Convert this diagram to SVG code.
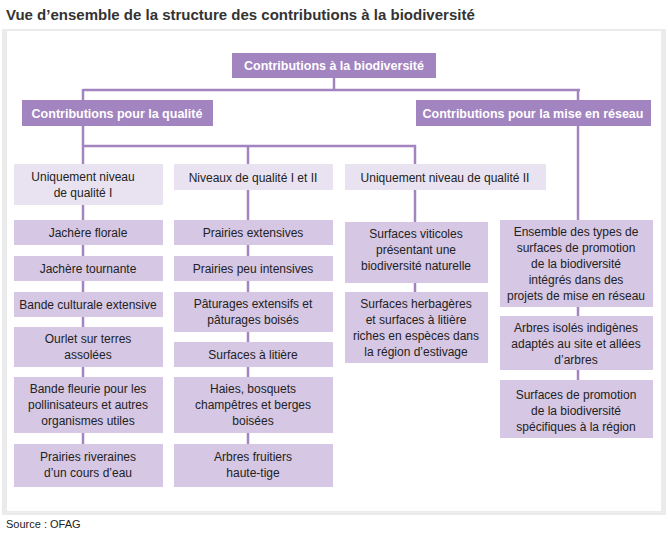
<svg xmlns="http://www.w3.org/2000/svg" width="668" height="536" viewBox="0 0 668 536">
<style>
text{font-family:"Liberation Sans","DejaVu Sans",sans-serif;font-size:12px;fill:#222;text-anchor:middle}
.h{fill:#a284c0}.h2{fill:#e9e3f1}.b{fill:#d6c7e4}
.ht{fill:#fff;font-weight:bold;font-size:12.5px}
.c line{stroke:#a284c0;stroke-width:2.5}
</style>
<rect width="668" height="536" fill="#fff"/>
<text x="6" y="20" style="text-anchor:start;font-weight:bold;font-size:15px;fill:#333">Vue d’ensemble de la structure des contributions à la biodiversité</text>
<rect x="2" y="29" width="664" height="486" fill="#ebebeb"/>
<rect x="7" y="31" width="654" height="480" fill="#fff"/>
<text x="6" y="528" style="text-anchor:start;font-size:11px">Source : OFAG</text>
<g class="c">
<line x1="334" y1="78" x2="334" y2="90"/><line x1="83" y1="90" x2="580" y2="90"/>
<line x1="83" y1="89" x2="83" y2="100"/><line x1="578" y1="89" x2="578" y2="100"/>
<line x1="83" y1="126" x2="83" y2="470"/><line x1="82" y1="146" x2="416" y2="146"/>
<line x1="248" y1="146" x2="248" y2="470"/><line x1="415" y1="145" x2="415" y2="330"/>
<line x1="578" y1="126" x2="578" y2="410"/>
</g>
<g id="root"><rect class="h" x="232" y="53" width="204" height="25"/><text class="ht" x="334" y="70">Contributions à la biodiversité</text></g>
<g id="qual"><rect class="h" x="22" y="100" width="191" height="26"/><text class="ht" x="117" y="118">Contributions pour la qualité</text></g>
<g id="res"><rect class="h" x="416" y="100" width="235" height="26"/><text class="ht" x="533" y="118">Contributions pour la mise en réseau</text></g>
<g id="h1"><rect class="h2" x="14" y="164" width="149" height="41"/><text x="83" y="181">Uniquement niveau</text><text x="83" y="197">de qualité I</text></g>
<g id="h2"><rect class="h2" x="174" y="164" width="159" height="26"/><text x="253" y="182">Niveaux de qualité I et II</text></g>
<g id="h3"><rect class="h2" x="345" y="164" width="201" height="26"/><text x="445" y="182">Uniquement niveau de qualité II</text></g>
<g id="a1"><rect class="b" x="14" y="220" width="149" height="25"/><text x="88" y="237">Jachère florale</text></g>
<g id="a2"><rect class="b" x="14" y="256" width="149" height="25"/><text x="88" y="273">Jachère tournante</text></g>
<g id="a3"><rect class="b" x="14" y="292" width="149" height="25"/><text x="88" y="309">Bande culturale extensive</text></g>
<g id="a4"><rect class="b" x="14" y="327" width="149" height="40"/><text x="88" y="343">Ourlet sur terres</text><text x="88" y="359">assolées</text></g>
<g id="a5"><rect class="b" x="14" y="377" width="149" height="56"/><text x="88" y="393">Bande fleurie pour les</text><text x="88" y="409">pollinisateurs et autres</text><text x="88" y="425">organismes utiles</text></g>
<g id="a6"><rect class="b" x="14" y="444" width="149" height="43"/><text x="88" y="461">Prairies riveraines</text><text x="88" y="477">d’un cours d’eau</text></g>
<g id="b1"><rect class="b" x="174" y="220" width="159" height="25"/><text x="253" y="237">Prairies extensives</text></g>
<g id="b2"><rect class="b" x="174" y="256" width="159" height="25"/><text x="253" y="273">Prairies peu intensives</text></g>
<g id="b3"><rect class="b" x="174" y="292" width="159" height="40"/><text x="253" y="308">Pâturages extensifs et</text><text x="253" y="324">pâturages boisés</text></g>
<g id="b4"><rect class="b" x="174" y="342" width="159" height="25"/><text x="253" y="359">Surfaces à litière</text></g>
<g id="b5"><rect class="b" x="174" y="377" width="159" height="56"/><text x="253" y="393">Haies, bosquets</text><text x="253" y="409">champêtres et berges</text><text x="253" y="425">boisées</text></g>
<g id="b6"><rect class="b" x="174" y="444" width="159" height="43"/><text x="253" y="461">Arbres fruitiers</text><text x="253" y="477">haute-tige</text></g>
<g id="c1"><rect class="b" x="345" y="222" width="143" height="61"/><text x="416" y="238">Surfaces viticoles</text><text x="416" y="254">présentant une</text><text x="416" y="270">biodiversité naturelle</text></g>
<g id="c2"><rect class="b" x="345" y="292" width="143" height="71"/><text x="416" y="308">Surfaces herbagères</text><text x="416" y="324">et surfaces à litière</text><text x="416" y="340">riches en espèces dans</text><text x="416" y="356">la région d’estivage</text></g>
<g id="d1"><rect class="b" x="500" y="220" width="153" height="87"/><text x="576" y="236">Ensemble des types de</text><text x="576" y="252">surfaces de promotion</text><text x="576" y="268">de la biodiversité</text><text x="576" y="284">intégrés dans des</text><text x="576" y="300">projets de mise en réseau</text></g>
<g id="d2"><rect class="b" x="500" y="316" width="153" height="54"/><text x="576" y="332">Arbres isolés indigènes</text><text x="576" y="348">adaptés au site et allées</text><text x="576" y="364">d’arbres</text></g>
<g id="d3"><rect class="b" x="500" y="380" width="153" height="58"/><text x="576" y="399">Surfaces de promotion</text><text x="576" y="415">de la biodiversité</text><text x="576" y="431">spécifiques à la région</text></g>
</svg>
